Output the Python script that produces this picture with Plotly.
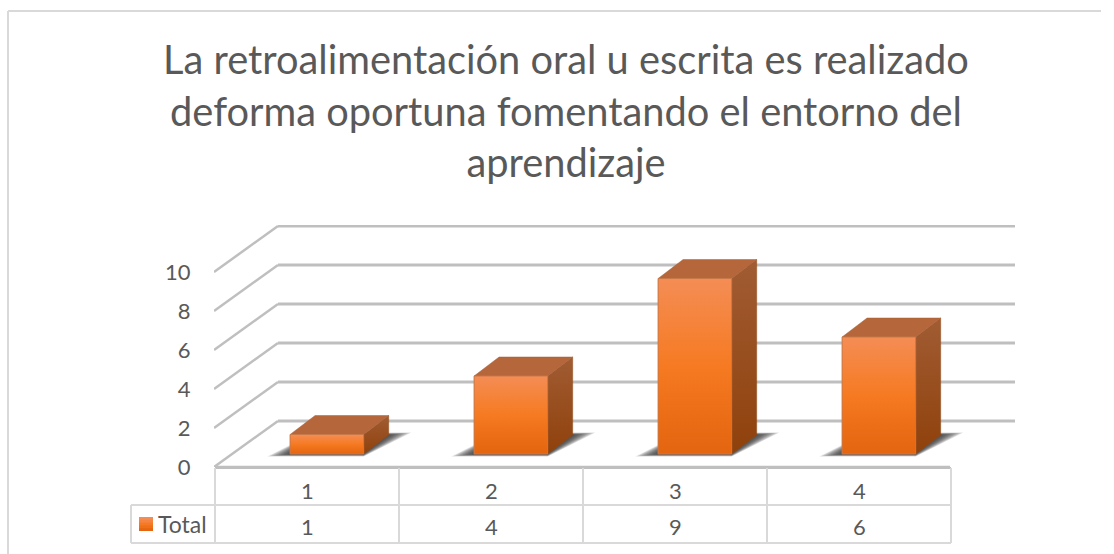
import plotly.graph_objects as go

W, H = 1114, 554
title_lines = ["La retroalimentación oral u escrita es realizado",
               "deforma oportuna fomentando el entorno del",
               "aprendizaje"]
categories = [1, 2, 3, 4]
values = [1, 4, 9, 6]
series_name = "Total"
y_ticks = [0, 2, 4, 6, 8, 10]

# geometry of the pseudo-3D projection, in pixels
PX_X, PX_Y = 184.0, 19.5
LEFT, RIGHT, TOP, BOTTOM = 214, 1015, 225, 467
DEPTH_X, DEPTH_Y = 64 / PX_X, 46 / PX_Y
BAR_W, BAR_DX = 0.40, 0.1135
BASE = 13 / PX_Y
SIDE_X, SIDE_Y = 25 / PX_X, 19 / PX_Y
GRID = "#bfbfbf"
TABLE = "#d9d9d9"
TEXT = "#595959"
FONT = "Lato"

x0 = 0.5
x_range = [x0, x0 + (RIGHT - LEFT) / PX_X]
y_range = [0, (BOTTOM - TOP) / PX_Y]
xfront = x0
xback = x0 + DEPTH_X
xfront_right = x0 + 4


def px(x):
    return x / W


def py(y):
    return 1 - y / H


shapes = []


def pline(xa, ya, xb, yb, color=TABLE, width=2):
    shapes.append(dict(type="line", xref="paper", yref="paper", x0=px(xa), x1=px(xb),
                       y0=py(ya), y1=py(yb), line=dict(color=color, width=width), layer="below"))


# outer frame
pline(8, 11, 1101, 11)
pline(8, 11, 8, 554)

# gridlines: back wall and left wall
for t in y_ticks:
    b = t + DEPTH_Y
    shapes.append(dict(type="line", x0=xback, x1=x_range[1], y0=b, y1=b,
                       line=dict(color=GRID, width=3), layer="below"))
    shapes.append(dict(type="line", x0=xfront, x1=xback, y0=t, y1=b,
                       line=dict(color=GRID, width=2.5), layer="below"))
shapes.append(dict(type="line", x0=xfront, x1=xfront_right, y0=0, y1=0,
                   line=dict(color=GRID, width=2.5), layer="below"))

# soft shadows on the floor, stacked translucent parallelograms
LAYERS = 12
for c, v in zip(categories, values):
    L = c + BAR_DX - BAR_W / 2
    R = c + BAR_DX + BAR_W / 2
    for i in range(LAYERS):
        s = (LAYERS - i) * 1.9 / PX_X
        sy = (LAYERS - i) * 0.2 / PX_Y
        path = (f"M {L - s},{BASE - sy} L {R},{BASE - sy} "
                f"L {R + SIDE_X + s},{BASE + SIDE_Y + sy} L {L + SIDE_X},{BASE + SIDE_Y + sy} Z")
        shapes.append(dict(type="path", path=path, fillcolor="rgba(45,45,45,0.12)",
                           line=dict(width=0), layer="below"))

# data table
col_x = [215, 399, 583, 767, 951]
rows = [468, 505, 543]
for y in rows:
    pline(215, y, 951, y, TABLE if y != 468 else GRID, 2)
for x in col_x:
    pline(x, 468, x, 543)
pline(131, 505, 215, 505)
pline(131, 543, 215, 543)
pline(131, 505, 131, 543)

# legend key with a stepped gradient; each strip runs to the bottom so no seams show
key_colors = ["#f48d55", "#f58443", "#f67a22", "#f0701a", "#e5660f"]
for i, col in enumerate(key_colors):
    top = 517 + i * 14 / len(key_colors)
    shapes.append(dict(type="rect", xref="paper", yref="paper", x0=px(139), x1=px(153),
                       y0=py(531), y1=py(top), line=dict(width=0),
                       fillcolor=col, layer="above"))

annotations = []


def label(x, y, t, size=22):
    annotations.append(dict(text=str(t), xref="paper", yref="paper", x=px(x), y=py(y),
                            showarrow=False, xanchor="center", yanchor="middle",
                            font=dict(family=FONT, size=size, color=TEXT)))


for i, c in enumerate(categories):
    cx = (col_x[i] + col_x[i + 1]) / 2
    label(cx, 490, c)
    label(cx, 526, values[i])
label(182, 524, series_name, 23)

fig = go.Figure()
fig.add_trace(go.Bar(x=[c + BAR_DX for c in categories], y=values, base=BASE, width=BAR_W,
                     name=series_name, marker=dict(color="#f57a22", line=dict(width=0)),
                     showlegend=False))

for c, v in zip(categories, values):
    L = c + BAR_DX - BAR_W / 2
    R = c + BAR_DX + BAR_W / 2
    T = BASE + v
    # right side
    fig.add_trace(go.Scatter(
        x=[R, R + SIDE_X, R + SIDE_X, R, R], y=[BASE, BASE + SIDE_Y, T + SIDE_Y, T, BASE],
        mode="lines", fill="toself", line=dict(width=0.5, color="#8f4a18"),
        fillgradient=dict(type="vertical", colorscale=[[0, "#8f410b"], [1, "#a15c33"]]),
        showlegend=False, hoverinfo="skip"))
    # top
    fig.add_trace(go.Scatter(
        x=[L, R, R + SIDE_X, L + SIDE_X, L], y=[T, T, T + SIDE_Y, T + SIDE_Y, T],
        mode="lines", fill="toself", line=dict(width=0.5, color="#a8623a"),
        fillcolor="#b5663a", showlegend=False, hoverinfo="skip"))
    # gradient front face
    fig.add_trace(go.Scatter(
        x=[L, R, R, L, L], y=[BASE, BASE, T, T, BASE],
        mode="lines", fill="toself", line=dict(width=1, color="#c8794a"),
        fillgradient=dict(type="vertical",
                          colorscale=[[0, "#e3650f"], [0.5, "#f67a22"], [1, "#f48d55"]]),
        showlegend=False, hoverinfo="skip"))

fig.update_layout(
    width=W, height=H, margin=dict(l=0, r=0, t=0, b=0, autoexpand=False),
    autosize=False,
    paper_bgcolor="white", plot_bgcolor="rgba(0,0,0,0)",
    showlegend=False, bargap=0,
    title=dict(text="<br>".join(title_lines), x=566 / W, xanchor="center", xref="paper",
               y=1 - 74 / H, yanchor="top",
               font=dict(family=FONT, size=39.8, color=TEXT)),
    xaxis=dict(domain=[LEFT / W, RIGHT / W], range=x_range, visible=False, fixedrange=True),
    yaxis=dict(domain=[1 - BOTTOM / H, 1 - TOP / H], range=y_range, tickvals=y_ticks,
               showgrid=False, zeroline=False, showline=False, ticks="outside", ticklen=18,
               tickcolor="rgba(0,0,0,0)", tickfont=dict(family=FONT, size=22, color=TEXT),
               automargin=False, fixedrange=True),
    shapes=shapes, annotations=annotations,
)
fig.write_html("out.html", config=dict(displayModeBar=False, responsive=False),
               post_script="document.documentElement.style.overflow='hidden';document.body.style.margin='0';")
